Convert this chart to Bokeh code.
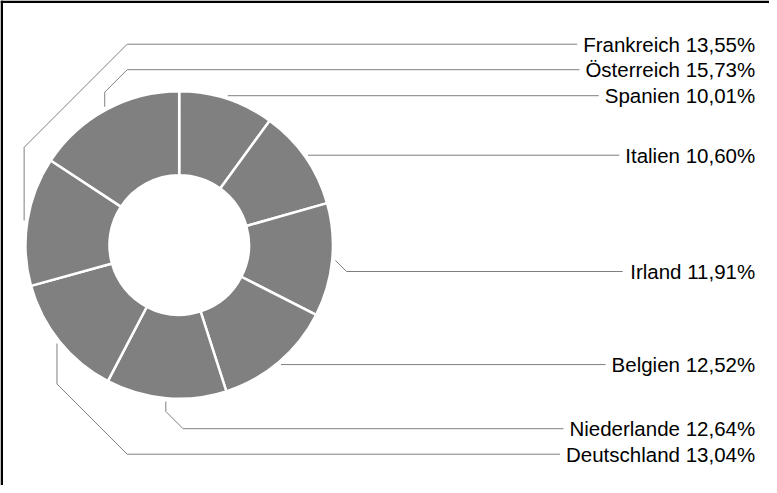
import math
from bokeh.plotting import figure
from bokeh.models import Range1d, Span, ColumnDataSource
from bokeh.embed import file_html
from bokeh.resources import INLINE
from bokeh.core.properties import value

# ---- data (clockwise from 12 o'clock) ----
countries = ["Spanien", "Italien", "Irland", "Belgien", "Niederlande",
             "Deutschland", "Frankreich", "Österreich"]
shares = [10.01, 10.60, 11.91, 12.52, 12.64, 13.04, 13.55, 15.73]

# ---- layout ----
W, H = 769, 485
cx, cy = 178.7, 240.5
r_out, r_in = 152.5, 71.0
sep = 2.5
font_px = 20.5
text_right = 754.7
spacing = 25.5
gap = 26.5

p = figure(width=W, height=H, output_backend="svg", toolbar_location=None,
           x_range=Range1d(0, W), y_range=Range1d(0, H), min_border=0,
           x_axis_location=None, y_axis_location=None)
p.grid.visible = False
p.outline_line_color = None
p.background_fill_color = "white"
p.border_fill_color = "white"

total = sum(shares)
cum = [0.0]
for v in shares:
    cum.append(cum[-1] + v / total)

starts = [math.pi / 2 - 2 * math.pi * cum[i + 1] for i in range(len(shares))]
ends = [math.pi / 2 - 2 * math.pi * cum[i] for i in range(len(shares))]
src = ColumnDataSource(dict(start=starts, end=ends, name=countries))
p.annular_wedge(x=cx, y=cy, inner_radius=r_in - sep / 2, outer_radius=r_out + sep / 2,
                start_angle="start", end_angle="end", source=src,
                fill_color="#808080", line_color="white", line_width=sep)

# ---- label layout ----
theta = [360.0 * (cum[i] + cum[i + 1]) / 2 for i in range(len(shares))]
ra = r_out + 4.5
ax = [cx + ra * math.sin(math.radians(t)) for t in theta]
ay = [cy + ra * math.cos(math.radians(t)) for t in theta]

order = sorted(range(len(shares)), key=lambda i: (theta[i] - 270) % 360)
top_y = cy + r_out + 48.3
bottom_y = cy - r_out - 56.7
ly = [0.0] * len(shares)
upper_left = [i for i in order if 270 <= theta[i] < 360]
lower_left = [i for i in order if 180 <= theta[i] < 270]
for k, i in enumerate(upper_left):
    ly[i] = top_y - k * spacing
for k, i in enumerate(reversed(lower_left)):
    ly[i] = bottom_y + k * spacing
for i in order:
    if theta[i] < 180:
        y = ay[i]
        if abs(y - cy) < gap:
            y = cy + (gap if y > cy else -gap)
        ly[i] = y
for a, b in zip(order[:-1], order[1:]):
    if ly[b] > ly[a] - spacing:
        ly[b] = ly[a] - spacing

# Arial / Liberation Sans advance widths (per 1000 em)
cw = {" ": 278, ",": 278, "%": 889, "F": 611, "r": 333, "a": 556, "n": 556,
      "k": 500, "e": 556, "i": 222, "c": 500, "h": 556, "Ö": 778, "s": 500,
      "t": 278, "S": 667, "p": 556, "I": 278, "l": 222, "B": 667, "g": 556,
      "N": 722, "d": 556, "D": 722, "u": 556}
for d in "0123456789":
    cw[d] = 556

labels = [f"{c} {v:.2f}".replace(".", ",") + "%" for c, v in zip(countries, shares)]
xs, ys = [], []
for i in range(len(shares)):
    tw = sum(cw.get(ch, 556) for ch in labels[i]) * font_px / 1000
    xe = text_right - tw - 6
    dy = ly[i] - ay[i]
    if theta[i] < 180:
        if abs(dy) < 0.5:
            px, py = [ax[i], xe], [ly[i], ly[i]]
        else:
            d = abs(dy)
            px, py = [ax[i], ax[i] + d, xe], [ay[i], ly[i], ly[i]]
    else:
        tot = abs(dy)
        sgn = 1 if dy > 0 else -1
        target_x = cx - 52
        if ax[i] < target_x:
            d = min(target_x - ax[i], tot)
        else:
            d = max(tot - 10, 0)
        vert = tot - d
        px = [ax[i], ax[i], ax[i] + d, xe]
        py = [ay[i], ay[i] + sgn * vert, ly[i], ly[i]]
    xs.append(px)
    ys.append(py)

p.multi_line(xs=xs, ys=ys, line_color="#7f7f7f", line_width=1)

p.text(x=[text_right] * len(labels), y=ly, text=labels, text_align="right",
       text_baseline="alphabetic", text_font=value("Liberation Sans"),
       text_font_size=f"{font_px}px", text_color="black")

# frame (left and top edges visible)
p.add_layout(Span(location=1.25, dimension="height", line_color="black", line_width=2.5))
p.add_layout(Span(location=H - 1.25, dimension="width", line_color="black", line_width=2.5))

open("out.html", "w").write(file_html(p, INLINE))
